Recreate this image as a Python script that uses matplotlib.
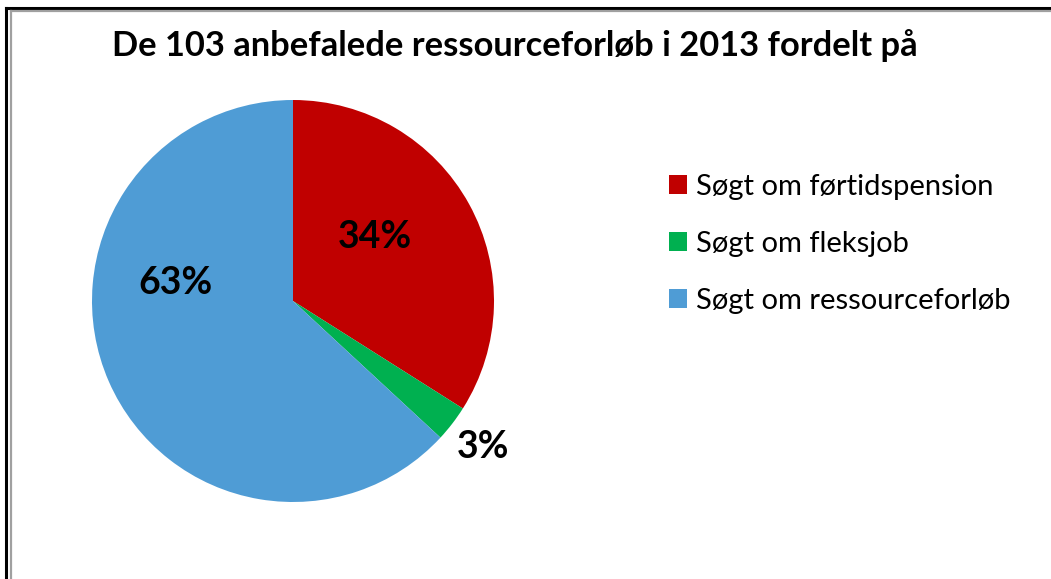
import numpy as np
import matplotlib
matplotlib.use('Agg')
import matplotlib.pyplot as plt
from matplotlib.lines import Line2D

plt.rcParams['font.family'] = ['Lato', 'DejaVu Sans']

# data: 103 recommended resource programmes
labels = ['Søgt om førtidspension', 'Søgt om fleksjob', 'Søgt om ressourceforløb']
counts = [35, 3, 65]
colors = ['#C00000', '#00B050', '#4F9CD5']
title = 'De 103 anbefalede ressourceforløb i 2013 fordelt på'

W, H = 1051, 579
fig = plt.figure(figsize=(W / 100, H / 100), dpi=100)

# pie axes, centre ~(293, 301) px, radius ~201 px
cx, cy, r = 293, 301, 201
ax = fig.add_axes([(cx - r) / W, 1 - (cy + r) / H, 2 * r / W, 2 * r / H])
wedges, texts, autotexts = ax.pie(counts, colors=colors, startangle=90, counterclock=False,
                                  autopct=lambda p: '%d%%' % round(p),
                                  wedgeprops=dict(linewidth=0))
ax.set_xlim(-1, 1)
ax.set_ylim(-1, 1)

# label placement (Excel best-fit style)
label_pos = [(0.52, 38), (1.19, None), (0.59, 171.5)]
for w, t, (rad, ang) in zip(wedges, autotexts, label_pos):
    if ang is None:
        ang = (w.theta1 + w.theta2) / 2
    a = np.deg2rad(ang)
    t.set_position((rad * np.cos(a), rad * np.sin(a)))
    t.set_fontsize(27)
    t.set_fontweight('bold')
    t.set_color('black')
    t.set_ha('center')
    t.set_va('center')

fig.text(515 / W, 1 - 46 / H, title, ha='center', va='center', fontsize=24.8, fontweight='bold')

leg = fig.legend(wedges, labels, loc='upper left', bbox_to_anchor=(657 / W, 1 - 162 / H),
                 frameon=False, fontsize=21, handlelength=0.62, handleheight=0.62,
                 handletextpad=0.3, labelspacing=1.06, borderaxespad=0)

# frame lines (cropped chart border)
fig.add_artist(Line2D([6 / W, 6 / W], [0, 1 - 8 / H], color='black', lw=2.2, transform=fig.transFigure))
fig.add_artist(Line2D([6 / W, 1], [1 - 8 / H, 1 - 8 / H], color='black', lw=2.2, transform=fig.transFigure))
fig.add_artist(Line2D([11 / W, 11 / W], [0, 1 - 10.5 / H], color='#A0A0A0', lw=1.6, transform=fig.transFigure))
fig.add_artist(Line2D([11 / W, 1], [1 - 10.5 / H, 1 - 10.5 / H], color='#A0A0A0', lw=1.6, transform=fig.transFigure))

fig.savefig('out.png', dpi=100)
